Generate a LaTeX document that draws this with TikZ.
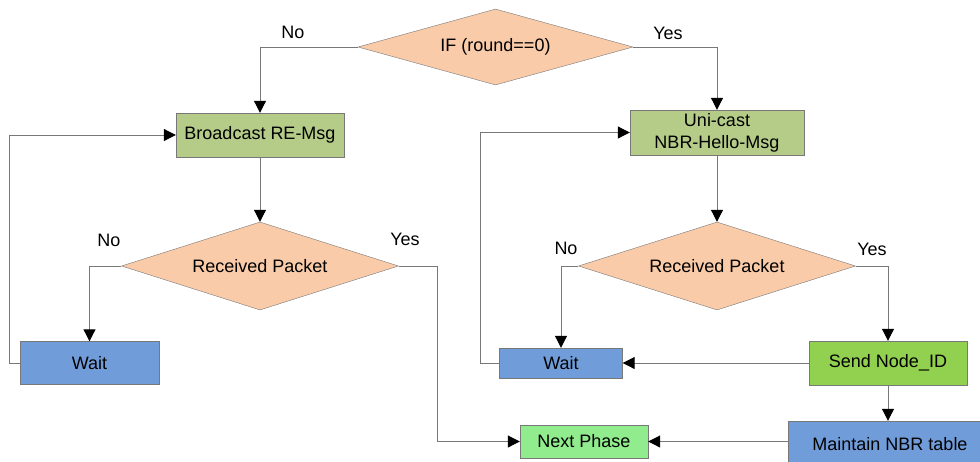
\documentclass[tikz,border=0pt]{standalone}
\usepackage{fontspec}
\setmainfont{Liberation Sans}
\usepackage{xcolor}
\usetikzlibrary{shapes.geometric,arrows.meta}
\definecolor{mypeach}{RGB}{249,203,168}
\definecolor{myolive}{RGB}{181,203,136}
\definecolor{myblue}{RGB}{112,157,217}
\definecolor{mygreen}{RGB}{146,208,80}
\definecolor{mylight}{RGB}{144,236,140}
\definecolor{myline}{RGB}{120,120,120}
\tikzstyle{decision} = [diamond,draw=myline,fill=mypeach,inner sep=0pt]
\tikzstyle{process} = [rectangle,draw=myline,inner sep=0pt,align=center]
\tikzstyle{arrow} = [myline,line width=1pt,-{Triangle[length=12pt,width=12pt,color=black]}]

\begin{document}
\begin{tikzpicture}[x=1pt,y=-1pt,font=\fontsize{18}{22}\selectfont]
          \useasboundingbox (0,0) rectangle (980,461);
          \clip (0,0) rectangle (980,461);
          % decisions
          \node[decision,aspect=3.6,minimum width=275pt,minimum height=76pt] (ifr) at (495.5,47) {IF (round==0)};
          \node[decision,aspect=3.15,minimum width=277pt,minimum height=88pt] (recvl) at (260,266) {Received Packet};
          \node[decision,aspect=3.15,minimum width=277pt,minimum height=88pt] (recvr) at (717,266) {Received Packet};
          % boxes
          \node[process,fill=myolive,minimum width=168pt,minimum height=44pt] (bcast) at (260,135) {Broadcast RE-Msg};
          \node[process,fill=myolive,minimum width=174pt,minimum height=45pt] (ucast) at (717,132.5) {Uni-cast\\NBR-Hello-Msg};
          \node[process,fill=myblue,minimum width=139pt,minimum height=43pt] (waitl) at (89.5,363) {Wait};
          \node[process,fill=myblue,minimum width=123pt,minimum height=30pt] (waitr) at (561,363) {Wait};
          \node[process,fill=mygreen,minimum width=158pt,minimum height=44pt] (send) at (888,363) {Send Node\_ID};
          \node[process,fill=myblue,minimum width=204pt,minimum height=46pt] (maint) at (890,444) {Maintain NBR table};
          \node[process,fill=mylight,minimum width=128pt,minimum height=33pt] (nextp) at (584,441.5) {Next Phase};
          % labels
          \node (nol) at (293,32) {No};
          \node (yesr) at (668,33) {Yes};
          \node (nol2) at (109,240) {No};
          \node (yesl2) at (405,239) {Yes};
          \node (nor2) at (566,248) {No};
          \node (yesr2) at (872,249) {Yes};
          % flow
          \draw[arrow] (ifr.west) -| (bcast.north);
          \draw[arrow] (ifr.east) -| (ucast.north);
          \draw[arrow] (bcast.south) -- (recvl.north);
          \draw[arrow] (ucast.south) -- (recvr.north);
          \draw[arrow] (recvl.west) -| (waitl.north);
          \draw[arrow] (recvl.east) -- ++(39,0) |- (nextp.west);
          \draw[arrow] (recvr.west) -| (waitr.north);
          \draw[arrow] (recvr.east) -| (send.north);
          \draw[arrow] (send.west) -- (waitr.east);
          \draw[arrow] (send.south) -- (send.south |- maint.north);
          \draw[arrow] (nextp.east -| maint.west) -- (nextp.east);
          \draw[arrow] (waitl.west) -- ++(-10,0) |- (bcast.west);
          \draw[arrow] (waitr.west) -- ++(-19,0) |- (ucast.west);
      \end{tikzpicture}
\end{document}
